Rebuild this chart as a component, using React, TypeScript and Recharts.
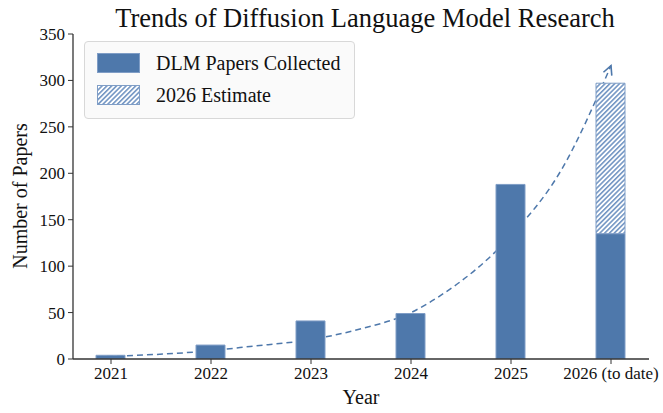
import React from 'react';
import {
  Bar,
  ComposedChart,
  Legend,
  Line,
  XAxis,
  YAxis,
} from 'recharts';

const years = ['2021', '2022', '2023', '2024', '2025', '2026 (to date)'];
const collected = [4, 15, 41, 49, 188, 135];
const estimateExtra = [0, 0, 0, 0, 0, 162];

// trend curve (x = year index)
const trendX = [-0.14, 1, 1.39, 2, 2.5, 3, 3.29, 4, 4.5, 5];
const trendY = [2.5, 9, 13.5, 21, 32.5, 50, 68, 133, 203, 316];

const yTicks = [0, 50, 100, 150, 200, 250, 300, 350];

const BLUE = '#4e78ab';
const EDGE = '#7f9dc6';
const FONT = '"Liberation Serif", "Times New Roman", serif';
const X_DOMAIN: [number, number] = [-0.38, 5.38];

const barData = years.map((y, i) => ({
  x: i,
  year: y,
  collected: collected[i],
  estimate: estimateExtra[i],
}));

const trendData = trendX.map((x, i) => ({ x, v: trendY[i] }));

const ArrowDot = (props: any) => {
  const { cx, cy, index } = props;
  if (index !== trendData.length - 1 || cx == null) return <g key={'d' + index} />;
  return (
    <g key={'d' + index} transform={`translate(${cx},${cy}) rotate(-68)`}>
      <path d="M -9 -4.5 L 0 0 L -9 4.5" fill="none" stroke={BLUE} strokeWidth={1.6} />
    </g>
  );
};

const LegendBox = () => (
  <div
    style={{
      position: 'absolute',
      left: 84,
      top: 41,
      width: 271,
      height: 78,
      boxSizing: 'border-box',
      border: '1px solid #d8d8d8',
      borderRadius: 4,
      background: 'rgba(250,250,250,0.9)',
      fontFamily: FONT,
      fontSize: 20,
      color: '#111',
    }}
  >
    <div style={{ position: 'absolute', left: 12, top: 11, width: 43, height: 20, background: BLUE, boxSizing: 'border-box', border: `1px solid ${EDGE}` }} />
    <div style={{ position: 'absolute', left: 71, top: 8, lineHeight: '26px', whiteSpace: 'nowrap' }}>DLM Papers Collected</div>
    <svg style={{ position: 'absolute', left: 12, top: 43 }} width={43} height={20}>
      <rect x={0.5} y={0.5} width={42} height={19} fill="url(#hatch)" stroke={EDGE} />
    </svg>
    <div style={{ position: 'absolute', left: 71, top: 40, lineHeight: '26px', whiteSpace: 'nowrap' }}>2026 Estimate</div>
  </div>
);

export default function App() {
  return (
    <div style={{ position: 'absolute', left: 0, top: 0, width: 663, height: 413, background: '#fff' }}>
      <div
        style={{
          position: 'absolute',
          left: 365,
          top: 3,
          transform: 'translateX(-50%)',
          whiteSpace: 'nowrap',
          fontFamily: FONT,
          fontSize: 26.5,
          lineHeight: '30px',
          color: '#111',
        }}
      >
        Trends of Diffusion Language Model Research
      </div>
      <div
        style={{
          position: 'absolute',
          left: 20,
          top: 196,
          transform: 'translate(-50%, -50%) rotate(-90deg)',
          fontFamily: FONT,
          fontSize: 20,
          whiteSpace: 'nowrap',
          color: '#111',
        }}
      >
        Number of Papers
      </div>
      <div
        style={{
          position: 'absolute',
          left: 361,
          top: 397,
          transform: 'translate(-50%, -50%)',
          fontFamily: FONT,
          fontSize: 20,
          color: '#111',
        }}
      >
        Year
      </div>
      <div style={{ position: 'absolute', left: 0, top: 0 }}>
        <ComposedChart
          width={663}
          height={413}
          data={barData}
          margin={{ top: 34, right: 14, bottom: 24, left: 0 }}
        >
          <defs>
            <pattern id="hatch" patternUnits="userSpaceOnUse" width={3.4} height={3.4} patternTransform="rotate(45)">
              <rect width={3.4} height={3.4} fill="#ffffff" />
              <line x1={0.8} y1={0} x2={0.8} y2={3.4} stroke="#6a8fc0" strokeWidth={1.5} />
            </pattern>
          </defs>
          <XAxis
            dataKey="x"
            type="number"
            domain={X_DOMAIN}
            ticks={[0, 1, 2, 3, 4, 5]}
            tickFormatter={(v: number) => years[v]}
            allowDataOverflow
            height={30}
            tickSize={5}
            tickMargin={3}
            tick={{ fontFamily: FONT, fontSize: 17, fill: '#111' }}
            axisLine={{ stroke: '#333', strokeWidth: 1.3 }}
            tickLine={{ stroke: '#333' }}
            interval={0}
          />
          <XAxis
            xAxisId="top"
            dataKey="x"
            type="number"
            orientation="top"
            domain={X_DOMAIN}
            allowDataOverflow
            height={0}
            tick={false}
            tickLine={false}
            axisLine={{ stroke: '#333', strokeWidth: 1.3 }}
          />
          <YAxis
            domain={[0, 350]}
            ticks={yTicks}
            width={73}
            tickSize={5}
            tickMargin={3}
            tick={{ fontFamily: FONT, fontSize: 17, fill: '#111' }}
            axisLine={{ stroke: '#333', strokeWidth: 1.3 }}
            tickLine={{ stroke: '#333' }}
            allowDataOverflow
          />
          <YAxis
            yAxisId="right"
            orientation="right"
            domain={[0, 350]}
            width={0}
            tick={false}
            tickLine={false}
            axisLine={{ stroke: '#333', strokeWidth: 1.3 }}
          />
          <Legend content={<LegendBox />} wrapperStyle={{ position: 'absolute', left: 0, top: 0, width: 0, height: 0 }} />
          <Line
            xAxisId="top"
            data={trendData}
            dataKey="v"
            type="monotone"
            stroke={BLUE}
            strokeWidth={1.5}
            strokeDasharray="6 4"
            dot={ArrowDot}
            activeDot={false}
            legendType="none"
            zIndex={100}
            isAnimationActive={false}
          />
          <Bar dataKey="collected" stackId="a" barSize={29} fill={BLUE} stroke={EDGE} strokeWidth={1} isAnimationActive={false} />
          <Bar dataKey="estimate" stackId="a" barSize={29} fill="url(#hatch)" stroke={EDGE} strokeWidth={1} isAnimationActive={false} />
        </ComposedChart>
      </div>
    </div>
  );
}
